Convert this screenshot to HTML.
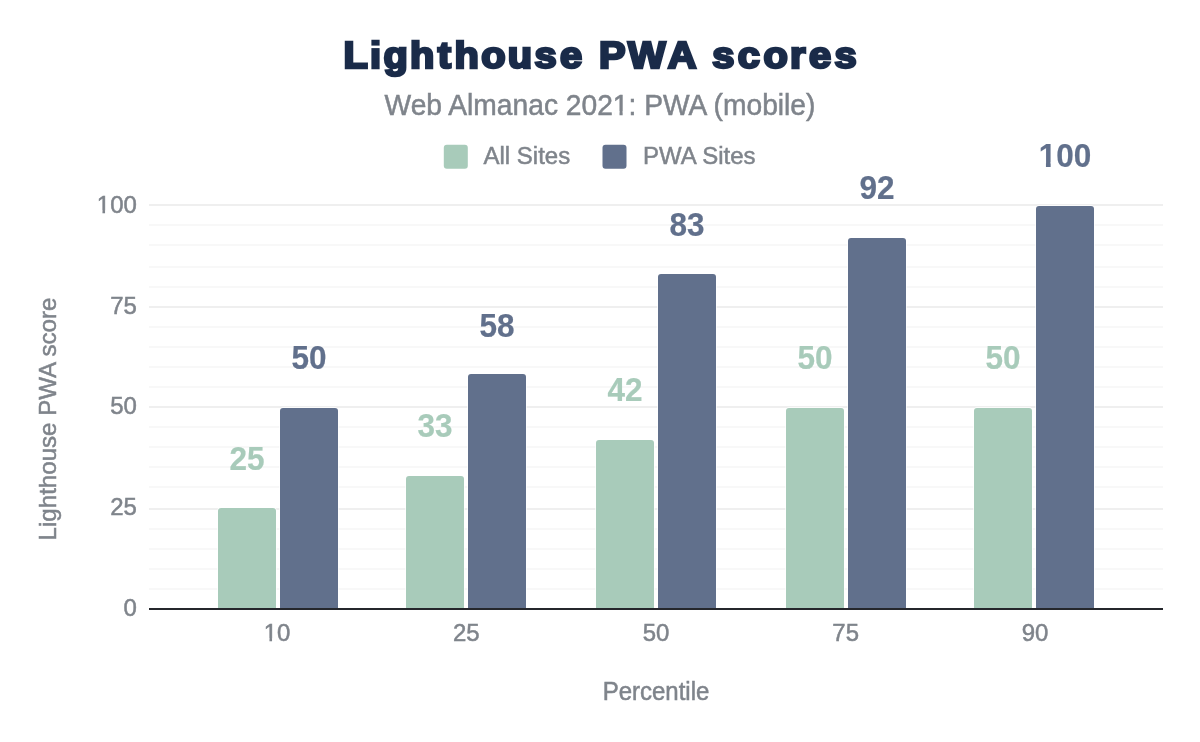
<!DOCTYPE html>
<html lang="en"><head><meta charset="utf-8"><title>Lighthouse PWA scores</title>
<style>html,body{margin:0;padding:0;background:#fff;}body{width:1200px;height:742px;overflow:hidden;}svg{display:block;}text{font-family:"Liberation Sans",Arial,Helvetica,sans-serif;}</style></head><body>
<svg width="1200" height="742" viewBox="0 0 1200 742">
<rect width="1200" height="742" fill="#fff"/>
<rect x="149" y="204" width="1014" height="2" fill="#efefef"/>
<rect x="149" y="224" width="1014" height="2" fill="#f8f8f8"/>
<rect x="149" y="244" width="1014" height="2" fill="#f8f8f8"/>
<rect x="149" y="266" width="1014" height="2" fill="#f8f8f8"/>
<rect x="149" y="286" width="1014" height="2" fill="#f8f8f8"/>
<rect x="149" y="306" width="1014" height="2" fill="#efefef"/>
<rect x="149" y="326" width="1014" height="2" fill="#f8f8f8"/>
<rect x="149" y="346" width="1014" height="2" fill="#f8f8f8"/>
<rect x="149" y="366" width="1014" height="2" fill="#f8f8f8"/>
<rect x="149" y="386" width="1014" height="2" fill="#f8f8f8"/>
<rect x="149" y="406" width="1014" height="2" fill="#efefef"/>
<rect x="149" y="426" width="1014" height="2" fill="#f8f8f8"/>
<rect x="149" y="446" width="1014" height="2" fill="#f8f8f8"/>
<rect x="149" y="466" width="1014" height="2" fill="#f8f8f8"/>
<rect x="149" y="486" width="1014" height="2" fill="#f8f8f8"/>
<rect x="149" y="508" width="1014" height="2" fill="#efefef"/>
<rect x="149" y="528" width="1014" height="2" fill="#f8f8f8"/>
<rect x="149" y="548" width="1014" height="2" fill="#f8f8f8"/>
<rect x="149" y="568" width="1014" height="2" fill="#f8f8f8"/>
<rect x="149" y="588" width="1014" height="2" fill="#f8f8f8"/>
<text transform="translate(0,67.5) scale(1.07,1)" x="320.93 345.82 358.32 383.25 409.18 424.78 449.71 474.65 499.55 523.43 547.30 559.79 586.83 624.18 653.21 665.67 689.56 713.48 738.36 756.02 779.90" y="0" font-weight="bold" font-size="37.2" fill="#1a2b49" stroke="#1a2b49" stroke-width="2.6" stroke-linejoin="miter" stroke-miterlimit="3">Lighthouse PWA scores</text>
<rect x="370" y="45.6" width="11" height="2.5" fill="#fff"/>
<text transform="translate(600.0,115.2) scale(1,1.045)" font-size="28.2" fill="#7f848b" stroke="#7f848b" stroke-width="0.5" text-anchor="middle">Web Almanac 2021: PWA (mobile)</text>
<rect x="443.8" y="144.7" width="24" height="24" rx="3" fill="#a8cbba"/>
<text transform="translate(483.5,163.7) scale(1,1.035)" font-size="24" fill="#7f848b" stroke="#7f848b" stroke-width="0.5">All Sites</text>
<rect x="602.5" y="144.7" width="24" height="24" rx="3" fill="#61708c"/>
<text transform="translate(643.1,163.7) scale(1,1.035)" font-size="24" fill="#7f848b" stroke="#7f848b" stroke-width="0.5">PWA Sites</text>
<text transform="translate(136.9,615.7) scale(1,1.02)" font-size="24" fill="#7f848b" stroke="#7f848b" stroke-width="0.5" text-anchor="end">0</text>
<text transform="translate(136.9,514.7) scale(1,1.02)" font-size="24" fill="#7f848b" stroke="#7f848b" stroke-width="0.5" text-anchor="end">25</text>
<text transform="translate(136.9,413.7) scale(1,1.02)" font-size="24" fill="#7f848b" stroke="#7f848b" stroke-width="0.5" text-anchor="end">50</text>
<text transform="translate(136.9,313.7) scale(1,1.02)" font-size="24" fill="#7f848b" stroke="#7f848b" stroke-width="0.5" text-anchor="end">75</text>
<text transform="translate(136.9,212.7) scale(1,1.02)" font-size="24" fill="#7f848b" stroke="#7f848b" stroke-width="0.5" text-anchor="end">100</text>
<text transform="translate(55.8,419.0) rotate(-90) scale(1,1.02)" font-size="24.1" fill="#7f848b" stroke="#7f848b" stroke-width="0.5" text-anchor="middle">Lighthouse PWA score</text>
<path d="M218,609 V511 Q218,508 221,508 H273 Q276,508 276,511 V609 Z" fill="#a8cbba" stroke="#fff" stroke-width="1.3" paint-order="stroke"/>
<path d="M280,609 V411 Q280,408 283,408 H335 Q338,408 338,411 V609 Z" fill="#61708c" stroke="#fff" stroke-width="1.3" paint-order="stroke"/>
<text transform="translate(247,469.6) scale(1,1.07)" font-size="31.5" font-weight="bold" fill="#a8cbba" stroke="#a8cbba" stroke-width="0.2" text-anchor="middle">25</text>
<text transform="translate(309,369.0) scale(1,1.07)" font-size="31.5" font-weight="bold" fill="#61708c" stroke="#61708c" stroke-width="0.2" text-anchor="middle">50</text>
<text transform="translate(277.1,640.5) scale(1,1.025)" font-size="24" fill="#7f848b" stroke="#7f848b" stroke-width="0.5" text-anchor="middle">10</text>
<path d="M406,609 V479 Q406,476 409,476 H461 Q464,476 464,479 V609 Z" fill="#a8cbba" stroke="#fff" stroke-width="1.3" paint-order="stroke"/>
<path d="M468,609 V377 Q468,374 471,374 H523 Q526,374 526,377 V609 Z" fill="#61708c" stroke="#fff" stroke-width="1.3" paint-order="stroke"/>
<text transform="translate(435,436.9) scale(1,1.07)" font-size="31.5" font-weight="bold" fill="#a8cbba" stroke="#a8cbba" stroke-width="0.2" text-anchor="middle">33</text>
<text transform="translate(497,336.5) scale(1,1.07)" font-size="31.5" font-weight="bold" fill="#61708c" stroke="#61708c" stroke-width="0.2" text-anchor="middle">58</text>
<text transform="translate(466.3,640.5) scale(1,1.025)" font-size="24" fill="#7f848b" stroke="#7f848b" stroke-width="0.5" text-anchor="middle">25</text>
<path d="M596,609 V443 Q596,440 599,440 H651 Q654,440 654,443 V609 Z" fill="#a8cbba" stroke="#fff" stroke-width="1.3" paint-order="stroke"/>
<path d="M658,609 V277 Q658,274 661,274 H713 Q716,274 716,277 V609 Z" fill="#61708c" stroke="#fff" stroke-width="1.3" paint-order="stroke"/>
<text transform="translate(625,401.0) scale(1,1.07)" font-size="31.5" font-weight="bold" fill="#a8cbba" stroke="#a8cbba" stroke-width="0.2" text-anchor="middle">42</text>
<text transform="translate(687,235.8) scale(1,1.07)" font-size="31.5" font-weight="bold" fill="#61708c" stroke="#61708c" stroke-width="0.2" text-anchor="middle">83</text>
<text transform="translate(656.0,640.5) scale(1,1.025)" font-size="24" fill="#7f848b" stroke="#7f848b" stroke-width="0.5" text-anchor="middle">50</text>
<path d="M786,609 V411 Q786,408 789,408 H841 Q844,408 844,411 V609 Z" fill="#a8cbba" stroke="#fff" stroke-width="1.3" paint-order="stroke"/>
<path d="M848,609 V241 Q848,238 851,238 H903 Q906,238 906,241 V609 Z" fill="#61708c" stroke="#fff" stroke-width="1.3" paint-order="stroke"/>
<text transform="translate(815,369.1) scale(1,1.07)" font-size="31.5" font-weight="bold" fill="#a8cbba" stroke="#a8cbba" stroke-width="0.2" text-anchor="middle">50</text>
<text transform="translate(877,199.1) scale(1,1.07)" font-size="31.5" font-weight="bold" fill="#61708c" stroke="#61708c" stroke-width="0.2" text-anchor="middle">92</text>
<text transform="translate(845.7,640.5) scale(1,1.025)" font-size="24" fill="#7f848b" stroke="#7f848b" stroke-width="0.5" text-anchor="middle">75</text>
<path d="M974,609 V411 Q974,408 977,408 H1029 Q1032,408 1032,411 V609 Z" fill="#a8cbba" stroke="#fff" stroke-width="1.3" paint-order="stroke"/>
<path d="M1036,609 V209 Q1036,206 1039,206 H1091 Q1094,206 1094,209 V609 Z" fill="#61708c" stroke="#fff" stroke-width="1.3" paint-order="stroke"/>
<text transform="translate(1003,369.1) scale(1,1.07)" font-size="31.5" font-weight="bold" fill="#a8cbba" stroke="#a8cbba" stroke-width="0.2" text-anchor="middle">50</text>
<text transform="translate(1065,166.9) scale(1,1.07)" font-size="31.5" font-weight="bold" fill="#61708c" stroke="#61708c" stroke-width="0.2" text-anchor="middle">100</text>
<text transform="translate(1035.0,640.5) scale(1,1.025)" font-size="24" fill="#7f848b" stroke="#7f848b" stroke-width="0.5" text-anchor="middle">90</text>
<rect x="149" y="608" width="1014" height="2" fill="#25272c"/>
<text transform="translate(656.0,699.75) scale(1,1.04)" font-size="24" fill="#7f848b" stroke="#7f848b" stroke-width="0.5" text-anchor="middle">Percentile</text>
<rect x="614.1" y="111.3" width="5.40" height="4.90" fill="#fff"/>
<rect x="622.65" y="111.3" width="5.45" height="4.90" fill="#fff"/>
<rect x="97.5" y="210.45" width="4.95" height="3.85" fill="#fff"/>
<rect x="105.05" y="210.45" width="5.55" height="3.85" fill="#fff"/>
<rect x="264.5" y="638.4" width="4.95" height="3.90" fill="#fff"/>
<rect x="272.05" y="638.4" width="4.75" height="3.90" fill="#fff"/>
<rect x="1039.5" y="162.3" width="6.45" height="4.90" fill="#fff"/>
<rect x="1050.65" y="162.3" width="5.55" height="4.90" fill="#fff"/>
</svg></body></html>
